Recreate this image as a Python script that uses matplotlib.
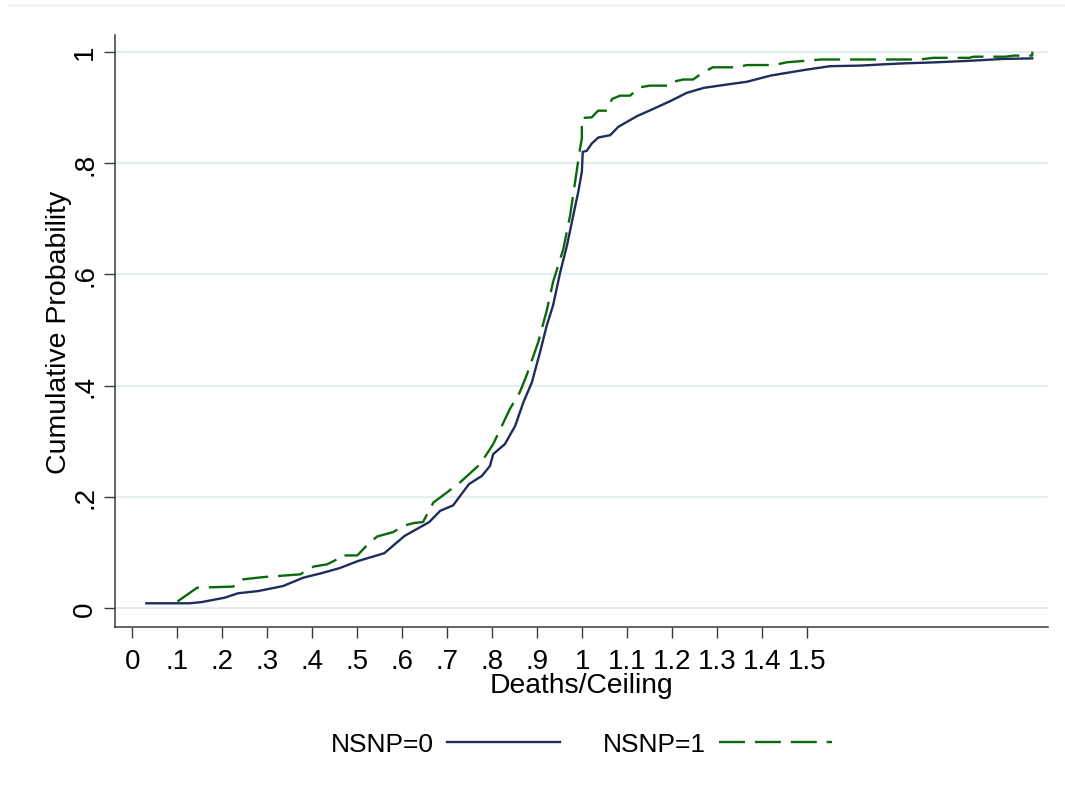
import matplotlib
matplotlib.use("Agg")
import matplotlib.pyplot as plt
from matplotlib.lines import Line2D

nsnp0_x = [0.031, 0.127, 0.153, 0.205, 0.235, 0.280, 0.335, 0.380, 0.420, 0.460,
           0.502, 0.560, 0.605, 0.660, 0.684, 0.713, 0.748, 0.777, 0.795, 0.802,
           0.828, 0.851, 0.869, 0.888, 0.906, 0.921, 0.935, 0.951, 0.966, 0.980,
           0.991, 0.999, 1.001, 1.010, 1.021, 1.036, 1.062, 1.080, 1.121, 1.157,
           1.195, 1.232, 1.270, 1.321, 1.366, 1.418, 1.462, 1.500, 1.551, 1.618,
           1.662, 1.714, 1.788, 1.869, 1.935, 2.000]
nsnp0_y = [0.009, 0.009, 0.011, 0.019, 0.027, 0.031, 0.040, 0.055, 0.063, 0.072,
           0.085, 0.099, 0.130, 0.155, 0.175, 0.185, 0.223, 0.238, 0.256, 0.277,
           0.295, 0.328, 0.370, 0.406, 0.460, 0.508, 0.544, 0.604, 0.652, 0.706,
           0.748, 0.784, 0.820, 0.822, 0.835, 0.846, 0.850, 0.865, 0.884, 0.897,
           0.911, 0.926, 0.935, 0.941, 0.946, 0.957, 0.963, 0.968, 0.974, 0.975,
           0.977, 0.979, 0.981, 0.984, 0.987, 0.988]

nsnp1_x = [0.100, 0.144, 0.224, 0.246, 0.290, 0.373, 0.403, 0.433, 0.455, 0.462,
           0.500, 0.520, 0.544, 0.580, 0.602, 0.624, 0.646, 0.669, 0.699, 0.728,
           0.773, 0.802, 0.839, 0.861, 0.876, 0.902, 0.921, 0.935, 0.958, 0.973,
           0.984, 0.995, 0.999, 0.999, 1.021, 1.035, 1.055, 1.066, 1.084, 1.106,
           1.128, 1.150, 1.195, 1.202, 1.224, 1.246, 1.269, 1.290, 1.343, 1.366,
           1.425, 1.455, 1.530, 1.750, 1.780, 1.860, 1.870, 1.940, 1.960, 2.000,
           2.000]
nsnp1_y = [0.012, 0.037, 0.039, 0.052, 0.056, 0.061, 0.075, 0.079, 0.088, 0.095,
           0.095, 0.112, 0.129, 0.137, 0.148, 0.153, 0.155, 0.190, 0.208, 0.226,
           0.259, 0.295, 0.358, 0.388, 0.418, 0.478, 0.535, 0.586, 0.646, 0.706,
           0.766, 0.826, 0.844, 0.881, 0.882, 0.894, 0.894, 0.915, 0.921, 0.921,
           0.936, 0.939, 0.939, 0.946, 0.950, 0.950, 0.963, 0.972, 0.972, 0.976,
           0.976, 0.981, 0.986, 0.986, 0.989, 0.989, 0.991, 0.991, 0.993, 0.993,
           1.000]

x_ticks = [0, 0.1, 0.2, 0.3, 0.4, 0.5, 0.6, 0.7, 0.8, 0.9, 1.0, 1.1, 1.2, 1.3, 1.4, 1.5]
x_tick_labels = ["0", ".1", ".2", ".3", ".4", ".5", ".6", ".7", ".8", ".9",
                 "1", "1.1", "1.2", "1.3", "1.4", "1.5"]
y_ticks = [0, 0.2, 0.4, 0.6, 0.8, 1.0]
y_tick_labels = ["0", ".2", ".4", ".6", ".8", "1"]
series_labels = ["NSNP=0", "NSNP=1"]

BLUE = "#1f2c5c"
GREEN = "#0a6a0a"
GRID = "#e4edf0"
AXC = "#3a3a3a"

plt.rcParams["font.family"] = ["Liberation Sans", "DejaVu Sans"]

fig = plt.figure(figsize=(10.65, 8.03), dpi=100)
ax = fig.add_axes([115 / 1065, 1 - 628 / 803, (1048 - 115) / 1065, (628 - 36) / 803])

# faint line at very top (page edge)
fig.add_artist(Line2D([9 / 1065, 1.0], [1 - 6 / 803, 1 - 6 / 803],
                      transform=fig.transFigure, color="#e3ebee", lw=1.0))

for yv in y_ticks:
    ax.axhline(yv, color=GRID, lw=1.6, zorder=0)

l0, = ax.plot(nsnp0_x, nsnp0_y, color=BLUE, lw=1.7, zorder=3,
              solid_joinstyle="miter")
l1, = ax.plot(nsnp1_x, nsnp1_y, color=GREEN, lw=1.7, zorder=4,
              dashes=(11, 4.2), dash_capstyle="butt")

ax.set_xlim(-0.0385, 2.035)
ax.set_ylim(-0.0336, 1.03)

ax.set_xticks(x_ticks)
ax.set_xticklabels(x_tick_labels)
ax.set_yticks(y_ticks)
ax.set_yticklabels(y_tick_labels, rotation=90, va="center")

ax.tick_params(axis="both", direction="out", length=8, width=1.0, color=AXC,
               labelsize=20, labelcolor="black")
ax.tick_params(axis="x", pad=7)
ax.tick_params(axis="y", pad=4)

for s in ["top", "right"]:
    ax.spines[s].set_visible(False)
for s in ["left", "bottom"]:
    ax.spines[s].set_color(AXC)
    ax.spines[s].set_linewidth(1.1)

ax.set_xlabel("Deaths/Ceiling", fontsize=20.3, labelpad=-1)
ax.set_ylabel("Cumulative Probability", fontsize=20.5, labelpad=0)

h0 = Line2D([], [], color=BLUE, lw=1.7)
h1 = Line2D([], [], color=GREEN, lw=1.7, dashes=(11, 4.2))
fig.legend([h0, h1], series_labels, loc="center", ncol=2,
           bbox_to_anchor=(581.5 / 1065, 1 - 745 / 803), frameon=False,
           markerfirst=False, fontsize=19, handlelength=4.3,
           handletextpad=0.5, columnspacing=1.6)

fig.savefig("out.png", dpi=100, facecolor="white")
